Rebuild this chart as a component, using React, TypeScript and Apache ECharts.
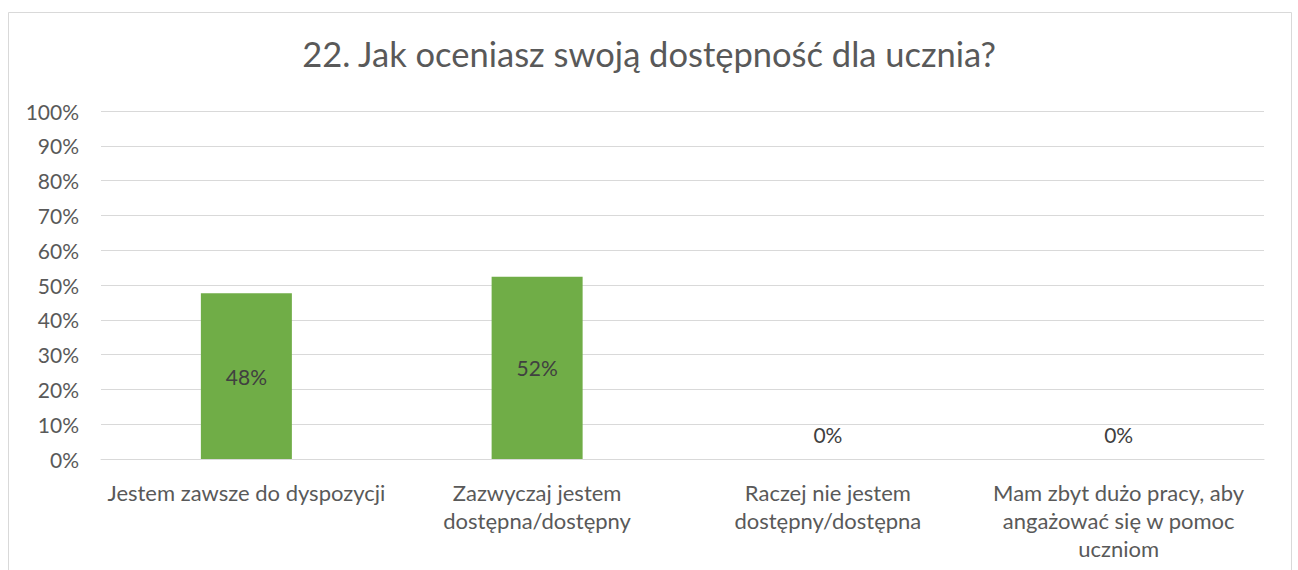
import React, { useEffect, useRef } from "react";
import * as echarts from "echarts";

const titleText = "22. Jak oceniasz swoją dostępność dla ucznia?";
const categories = [
  "Jestem zawsze do dyspozycji",
  "Zazwyczaj jestem\ndostępna/dostępny",
  "Raczej nie jestem\ndostępny/dostępna",
  "Mam zbyt dużo pracy, aby\nangażować się w pomoc\nuczniom",
];
const values = [47.6, 52.4, 0, 0];
const labels = ["48%", "52%", "0%", "0%"];

const FONT = "Lato, 'Noto Sans', sans-serif";
const TEXT = "#595959";

export default function App() {
  const ref = useRef<HTMLDivElement>(null);
  useEffect(() => {
    document.body.style.margin = "0";
    const chart = echarts.init(ref.current!, undefined, { renderer: "svg" });
    chart.setOption({
      animation: false,
      backgroundColor: "#ffffff",
      textStyle: { fontFamily: FONT },
      title: {
        text: titleText,
        left: "center",
        top: 31,
        textStyle: { fontFamily: FONT, fontSize: 34.5, fontWeight: "normal", color: TEXT },
      },
      graphic: [
        {
          type: "rect",
          shape: { x: 8.5, y: 12.5, width: 1283, height: 620 },
          style: { fill: "none", stroke: "#d9d9d9", lineWidth: 1 },
          silent: true,
        },
      ],
      grid: { left: 101, right: 34, top: 111, bottom: 111, containLabel: false },
      xAxis: {
        type: "category",
        data: categories,
        axisLine: { show: true, lineStyle: { color: "#d9d9d9", width: 1 } },
        axisTick: { show: false },
        axisLabel: {
          color: TEXT,
          fontSize: 22,
          fontFamily: FONT,
          lineHeight: 28,
          margin: 19,
          interval: 0,
          verticalAlign: "top",
        },
      },
      yAxis: {
        type: "value",
        min: 0,
        max: 100,
        interval: 10,
        axisLine: { show: false },
        axisTick: { show: false },
        splitLine: { lineStyle: { color: "#d9d9d9", width: 1 } },
        axisLabel: {
          color: TEXT,
          fontSize: 21,
          fontFamily: FONT,
          margin: 22,
          formatter: (v: number) => v + "%",
        },
      },
      series: [
        {
          type: "bar",
          barWidth: "31.3%",
          itemStyle: { color: "#70ad47" },
          data: values.map((v, i) => ({
            value: v,
            label:
              v > 0
                ? { show: true, position: "inside", formatter: labels[i] }
                : { show: true, position: "top", distance: 14, formatter: labels[i] },
          })),
          label: { color: "#404040", fontSize: 21, fontFamily: FONT },
        },
      ],
    });
    return () => chart.dispose();
  }, []);
  return <div ref={ref} style={{ width: 1298, height: 570 }} />;
}
